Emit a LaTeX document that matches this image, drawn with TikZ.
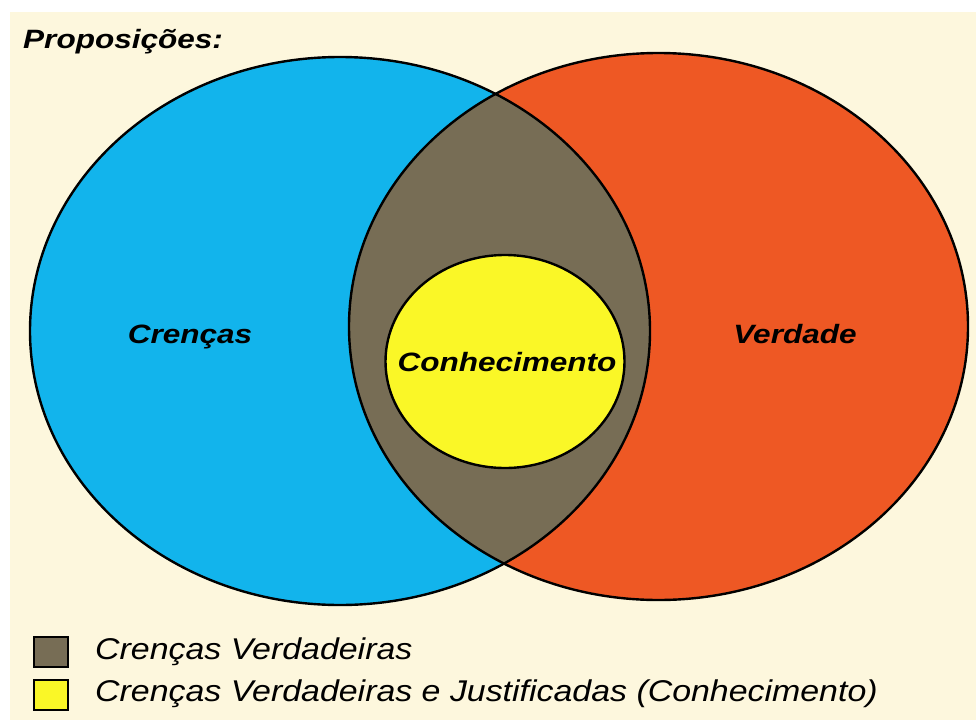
\documentclass[tikz,border=0pt]{standalone}
\usepackage{fontspec}
\setmainfont{Liberation Sans}
\definecolor{cream}{HTML}{FDF7DD}
\definecolor{cblue}{HTML}{12B4EC}
\definecolor{corange}{HTML}{EE5824}
\definecolor{cbrown}{HTML}{776D55}
\definecolor{cyellow}{HTML}{FAF727}
\begin{document}
\begin{tikzpicture}[x=1pt,y=-1pt,
  outline/.style={draw=black,line width=2.4pt},
  biglabel/.style={inner sep=0pt,font=\fontsize{26.5}{30}\selectfont\bfseries\itshape},
  leglabel/.style={inner sep=0pt,anchor=west,font=\fontsize{30}{34}\selectfont\itshape},
  legbox/.style={draw=black,line width=1.6pt,minimum width=34pt,minimum height=30pt,inner sep=0pt}]
\useasboundingbox (0,0) rectangle (976,720);
\fill[white] (0,0) rectangle (976,720);
\fill[cream] (10,12) rectangle (976,720);
% main ellipses
\fill[cblue] (340,331) ellipse [x radius=310, y radius=274];
\fill[corange] (658.5,326.5) ellipse [x radius=309.5, y radius=273.5];
\begin{scope}
  \clip (340,331) ellipse [x radius=310, y radius=274];
  \fill[cbrown] (658.5,326.5) ellipse [x radius=309.5, y radius=273.5];
\end{scope}
\draw[outline] (340,331) ellipse [x radius=310, y radius=274];
\draw[outline] (658.5,326.5) ellipse [x radius=309.5, y radius=273.5];
\filldraw[fill=cyellow,outline] (505,361.5) ellipse [x radius=119.5, y radius=106.5];
% labels
\node[inner sep=0pt,anchor=base west,font=\fontsize{26.5}{30}\selectfont\bfseries\itshape] (title) at (23,48) {\scalebox{1.19}[1]{Proposições:}};
\node[biglabel] (crencas) at (190,337) {\scalebox{1.19}[1]{Crenças}};
\node[biglabel] (verdade) at (795,334) {\scalebox{1.19}[1]{Verdade}};
\node[biglabel] (conhec) at (507,362) {\scalebox{1.19}[1]{Conhecimento}};
% legend
\node[legbox,fill=cbrown] (box1) at (51,652) {};
\node[legbox,fill=cyellow] (box2) at (51,695) {};
\node[leglabel] (leg1) at (95,652) {\scalebox{1.13}[1]{Crenças Verdadeiras}};
\node[leglabel] (leg2) at (95,694) {\scalebox{1.13}[1]{Crenças Verdadeiras e Justificadas (Conhecimento)}};
\end{tikzpicture}
\end{document}
